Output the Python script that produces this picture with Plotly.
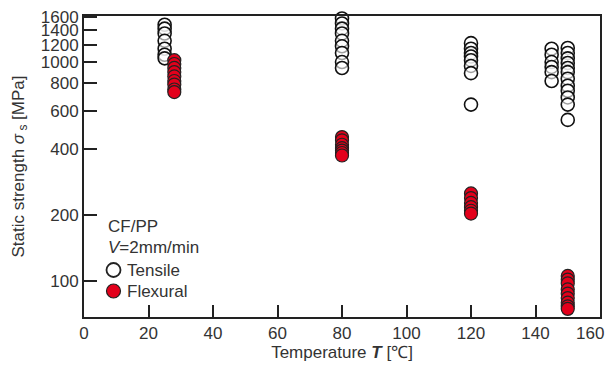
import plotly.graph_objects as go

tensile_x = [25]*7 + [80]*9 + [120]*8 + [145]*6 + [150]*12
tensile_y = [1480, 1420, 1350, 1250, 1150, 1080, 1040,
             1580, 1500, 1420, 1350, 1250, 1180, 1100, 1000, 940,
             1220, 1150, 1100, 1060, 1020, 960, 890, 640,
             1150, 1080, 1000, 950, 900, 820,
             1160, 1100, 1040, 990, 940, 900, 840, 780, 740, 690, 640, 545]

flex_x = [28]*9 + [80]*7 + [120]*6 + [150]*9
flex_y = [1020, 980, 940, 900, 860, 820, 790, 750, 730,
          455, 440, 420, 405, 395, 385, 375,
          252, 240, 228, 218, 210, 204,
          106, 102, 98, 92, 88, 84, 80, 77, 75]

y_ticks = [100, 200, 400, 600, 800, 1000, 1200, 1400, 1600]
x_ticks = [0, 20, 40, 60, 80, 100, 120, 140, 160]

font = "Liberation Sans, Arial, sans-serif"
txt = "#333333"
RED = "#e3001b"

OFF = 8  # page body margin offset
W, H = 613, 367
# target plot area in page pixels: x 84..600, y 16..317
L, T = 84 - OFF, 16 - OFF
R = W - (600 - OFF)
B = H - (317 - OFF)
PW, PH = W - L - R, H - T - B


def px(xp):
    return (xp - OFF - L) / PW


def py(yp):
    return 1 - (yp - OFF - T) / PH


fig = go.Figure()
fig.add_trace(go.Scatter(x=tensile_x, y=tensile_y, mode="markers", name="Tensile",
                         marker=dict(size=13, color="rgba(255,255,255,0.6)",
                                     line=dict(color="#111111", width=1.6)),
                         cliponaxis=False, showlegend=False))
fig.add_trace(go.Scatter(x=flex_x, y=flex_y, mode="markers", name="Flexural",
                         marker=dict(size=13, color=RED,
                                     line=dict(color="#222222", width=1.2)),
                         cliponaxis=False, showlegend=False))

# legend block drawn as text + symbols
legend_lines = [("CF/PP", 106, 226), ("<i>V</i>=2mm/min", 106, 247),
                ("Tensile", 125, 270), ("Flexural", 125, 291)]
for text, xp, yp in legend_lines:
    fig.add_annotation(x=px(xp), y=py(yp), xref="paper", yref="paper", text=text,
                       showarrow=False, xanchor="left", yanchor="middle",
                       font=dict(size=17, color=txt, family=font))
r = 7
for yp, fill, lw in [(270, "white", 1.8), (291, RED, 1.2)]:
    fig.add_shape(type="circle", xref="paper", yref="paper",
                  x0=px(113.5 - r), x1=px(113.5 + r), y0=py(yp + r), y1=py(yp - r),
                  fillcolor=fill, line=dict(color="#222222", width=lw))

# last x tick label placed slightly inward so it is not cut at the page edge
x_ticktext = [str(v) for v in x_ticks]
fig.add_annotation(x=x_ticks[-1], xref="x", y=0, yref="paper", text=x_ticktext[-1],
                   showarrow=False, xanchor="right", yanchor="middle",
                   xshift=6, yshift=-16, font=dict(size=17, color=txt, family=font))
x_ticktext[-1] = ""

fig.update_layout(
    width=W, height=H,
    margin=dict(l=L, r=R, t=T, b=B),
    paper_bgcolor="white", plot_bgcolor="white",
    font=dict(family=font, size=17, color=txt),
    showlegend=False,
    xaxis=dict(range=[0, 160], tickvals=x_ticks, ticktext=x_ticktext,
               ticks="inside", ticklen=12,
               tickwidth=1.5, tickcolor="#222", showline=True, linecolor="#222",
               linewidth=2, mirror=True, showgrid=False, zeroline=False,
               automargin=False,
               tickfont=dict(size=17, color=txt),
               title=dict(text="Temperature <b><i>T</i></b> [℃]", standoff=2,
                          font=dict(size=17, color=txt))),
    yaxis=dict(type="log", range=[1.838, 3.21], tickvals=y_ticks,
               ticktext=[str(v) for v in y_ticks], ticks="inside", ticklen=13,
               tickwidth=1.5, tickcolor="#222", showline=True, linecolor="#222",
               linewidth=2, mirror=True, showgrid=False, zeroline=False,
               automargin=False,
               tickfont=dict(size=17, color=txt),
               title=dict(text="Static strength <i>σ</i><sub> s</sub> [MPa]", standoff=12,
                          font=dict(size=17, color=txt))),
)

fig.write_html("out.html")
